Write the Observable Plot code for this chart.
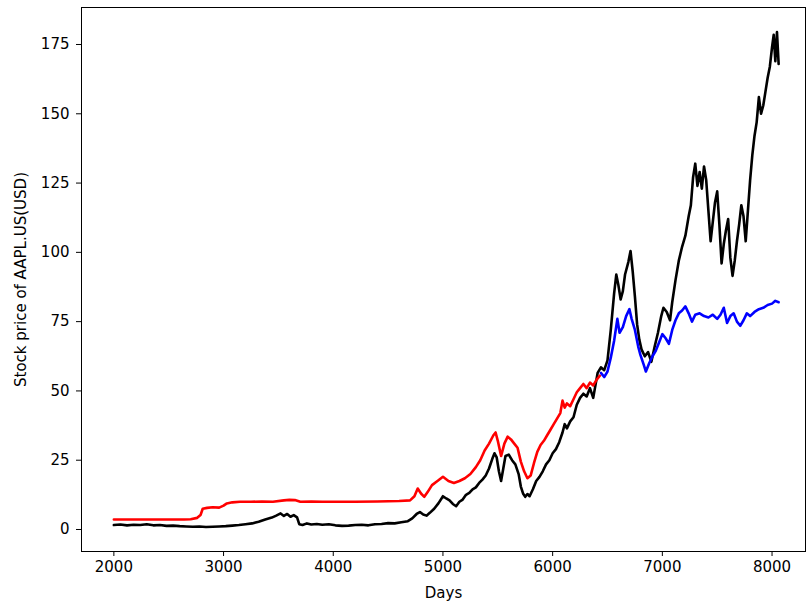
<!DOCTYPE html>
<html><head><meta charset="utf-8">
<script src="https://cdn.jsdelivr.net/npm/d3@7"></script>
<script src="https://cdn.jsdelivr.net/npm/@observablehq/plot@0.6"></script>
<style>
body{margin:0;background:#fff;}
#chart svg{font-family:"DejaVu Sans",sans-serif;}
</style>
</head><body><div id="chart"></div>
<script>
// Actual price (black)
const blackDays = [2000,2060,2120,2180,2240,2300,2360,2420,2480,2540,2600,2660,2720,2780,2840,2900,2960,3020,3080,3140,3200,3260,3320,3380,3440,3480,3520,3550,3580,3610,3640,3670,3690,3720,3760,3800,3850,3900,3960,4020,4080,4140,4200,4260,4320,4380,4440,4500,4560,4620,4680,4720,4760,4790,4820,4850,4880,4920,4960,5000,5030,5060,5090,5120,5150,5180,5210,5240,5270,5300,5330,5360,5390,5420,5450,5470,5490,5510,5530,5550,5570,5600,5630,5660,5690,5710,5730,5750,5770,5790,5820,5850,5880,5910,5940,5970,6000,6030,6060,6090,6110,6130,6160,6190,6220,6250,6280,6310,6340,6370,6390,6410,6440,6470,6500,6530,6560,6580,6600,6620,6640,6660,6690,6710,6730,6750,6770,6790,6810,6840,6870,6900,6930,6960,6990,7010,7040,7070,7090,7120,7150,7180,7210,7240,7260,7280,7300,7320,7340,7360,7380,7400,7420,7440,7460,7480,7500,7520,7540,7560,7580,7600,7620,7640,7660,7680,7700,7720,7740,7760,7780,7800,7820,7840,7860,7880,7900,7920,7940,7960,7980,8000,8015,8030,8045,8060];
const blackVals = [1.6,1.8,1.5,1.7,1.6,1.9,1.5,1.6,1.3,1.4,1.2,1.1,1.0,1.1,0.9,1.0,1.1,1.2,1.4,1.6,1.9,2.2,2.8,3.6,4.3,5.0,5.8,4.9,5.6,4.6,5.2,4.4,1.9,1.6,2.2,1.8,2.0,1.7,1.9,1.5,1.3,1.4,1.6,1.7,1.5,1.9,2.0,2.3,2.2,2.6,3.0,4.0,5.6,6.3,5.4,5.0,6.0,7.5,9.5,12.0,11.2,10.5,9.2,8.4,10.0,10.8,12.5,13.2,14.5,15.2,16.8,18.0,19.5,22.0,25.5,27.5,26.0,21.0,17.5,22.0,26.5,27.0,25.0,23.5,20.0,15.5,13.0,11.8,12.8,12.0,14.5,17.5,19.0,21.0,23.5,25.0,27.5,29.0,31.5,35.0,38.0,36.5,39.0,40.5,45.0,47.5,49.0,48.0,51.0,47.5,52.0,56.5,58.5,57.5,61.0,72.0,85.0,92.0,88.0,83.0,86.0,92.0,96.5,100.5,93.0,84.0,74.0,68.5,65.0,62.5,64.0,60.5,66.0,71.0,77.0,80.0,78.5,75.5,82.0,90.0,97.0,102.0,106.0,113.0,117.0,127.0,132.0,124.0,129.0,123.0,131.0,126.0,115.0,104.0,111.0,118.0,122.0,110.0,96.0,103.0,108.0,112.0,98.0,91.5,97.0,104.0,110.0,117.0,113.0,104.0,115.0,126.0,135.0,142.0,147.0,156.0,150.0,153.0,158.0,163.0,167.0,174.0,178.5,169.0,179.5,168.0];

// Training prediction (red)
const redDays = [2000,2200,2400,2640,2700,2760,2790,2810,2850,2900,2960,3000,3030,3080,3150,3250,3350,3450,3550,3600,3650,3700,3800,3900,4000,4200,4400,4600,4700,4740,4770,4800,4830,4860,4900,4950,5000,5050,5100,5150,5200,5250,5300,5340,5380,5420,5460,5480,5500,5530,5560,5590,5620,5650,5680,5710,5740,5770,5800,5830,5860,5890,5920,5950,5980,6010,6040,6070,6090,6110,6130,6160,6190,6220,6250,6280,6310,6340,6370,6400,6430];
const redVals = [3.6,3.6,3.6,3.6,3.7,4.2,5.2,7.5,7.8,8.0,7.9,8.6,9.4,9.8,10.0,10.0,10.1,10.0,10.5,10.7,10.6,10.0,10.1,10.0,10.0,10.0,10.1,10.3,10.5,12.0,14.8,13.0,11.8,13.5,16.0,17.5,19.0,17.5,16.8,17.5,18.5,20.0,22.5,25.0,28.5,31.0,34.0,35.0,32.0,26.5,31.0,33.5,32.5,31.0,29.5,24.5,21.0,18.5,19.5,24.0,28.0,30.5,32.0,34.0,36.0,38.0,40.0,42.0,46.5,44.0,45.5,44.5,47.0,49.5,51.0,52.5,51.0,53.0,52.0,54.0,55.5];

// Test prediction (blue)
const blueDays = [6440,6470,6500,6530,6560,6590,6610,6640,6670,6700,6720,6750,6780,6800,6830,6850,6880,6910,6940,6970,7000,7030,7060,7090,7120,7150,7180,7210,7240,7270,7300,7340,7380,7420,7460,7500,7530,7560,7590,7620,7650,7680,7710,7740,7770,7800,7840,7880,7920,7960,8000,8030,8060];
const blueVals = [56.5,55.0,57.0,62.0,68.0,76.0,71.0,73.0,77.0,79.5,76.0,72.0,66.0,63.0,59.5,57.0,60.0,62.5,64.5,67.5,70.5,69.0,67.0,72.0,75.5,78.0,79.0,80.5,78.0,75.0,77.5,78.0,77.0,76.5,77.5,76.0,77.5,80.0,74.5,77.0,78.0,75.0,73.5,75.5,78.0,77.0,78.5,79.5,80.0,81.0,81.5,82.5,82.0];

const xTicks = [2000,3000,4000,5000,6000,7000,8000];
const yTicks = [0,25,50,75,100,125,150,175];

const black = blackDays.map((d,i)=>({d, v: blackVals[i]}));
const red = redDays.map((d,i)=>({d, v: redVals[i]}));
const blue = blueDays.map((d,i)=>({d, v: blueVals[i]}));

const chart = Plot.plot({
  width: 809, height: 608,
  marginLeft: 81, marginRight: 4, marginTop: 7, marginBottom: 57,
  style: {fontSize: "15px", fontFamily: "DejaVu Sans, sans-serif", color: "#000", background: "#fff"},
  x: {domain: [1705, 8305], ticks: xTicks, tickFormat: d3.format("d"), label: null},
  y: {domain: [-7.94, 188.35], ticks: yTicks, label: null},
  marks: [
    Plot.line(black, {x: "d", y: "v", stroke: "#000", strokeWidth: 2.6, strokeLinejoin: "round"}),
    Plot.line(red, {x: "d", y: "v", stroke: "#ff0000", strokeWidth: 2.6, strokeLinejoin: "round"}),
    Plot.line(blue, {x: "d", y: "v", stroke: "#0000ff", strokeWidth: 2.6, strokeLinejoin: "round"}),
    Plot.frame({stroke: "#000", strokeWidth: 1}),
    Plot.axisX({ticks: xTicks, tickFormat: d3.format("d"), tickSize: 5, tickPadding: 5, label: "Days", labelAnchor: "center", labelArrow: "none", labelOffset: 46}),
    Plot.axisY({ticks: yTicks, tickSize: 5, tickPadding: 7, label: "Stock price of AAPL.US(USD)", labelAnchor: "center", labelArrow: "none", labelOffset: 66})
  ]
});
document.getElementById("chart").appendChild(chart);
</script>
</body></html>
